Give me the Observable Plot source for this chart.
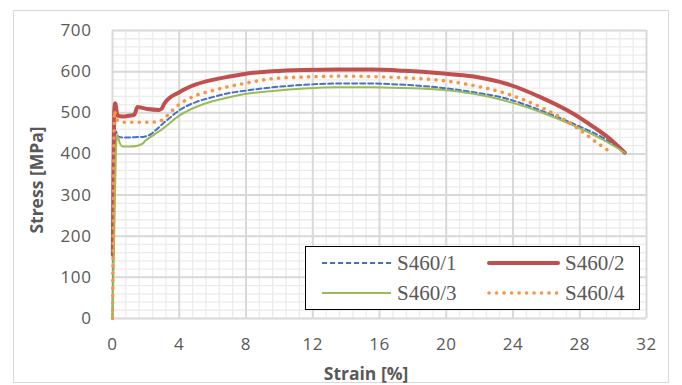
<!DOCTYPE html>
<html>
<head>
<meta charset="utf-8">
<script src="https://cdn.jsdelivr.net/npm/d3@7"></script>
<script src="https://cdn.jsdelivr.net/npm/@observablehq/plot@0.6"></script>
<style>
  html, body { margin: 0; padding: 0; background: white; }
  #chart { width: 682px; height: 385px; }
</style>
</head>
<body>
<div id="chart"></div>
<script>
// ---- Data ----
const seriesNames = ["S460/1", "S460/2", "S460/3", "S460/4"];

const strain1 = [0, 0.1, 0.2, 0.35, 0.6, 1.0, 1.5, 1.9, 2.3, 2.6, 3.0, 3.5, 4.0, 5.0, 6.0, 7.0, 8.0, 9.6, 11.5, 13.5, 15.5, 17.5, 19.65, 21.65, 23.65, 25.64, 27.64, 29.64, 30.7];
const stress1 = [0, 300, 455, 442, 440, 440, 441, 442, 448, 458, 473, 490, 506, 526, 538, 548, 554, 562, 568, 571, 571, 568, 561, 550, 534, 506, 473, 433, 403];

const strain2 = [0.02, 0.05, 0.1, 0.16, 0.3, 0.6, 1.0, 1.3, 1.5, 1.8, 2.1, 2.8, 2.95, 3.1, 4.0, 5.0, 6.0, 7.0, 8.0, 9.6, 11.5, 13.5, 15.5, 17.5, 19.65, 21.65, 23.65, 25.64, 27.64, 28.84, 29.64, 30.7];
const stress2 = [155, 335, 500, 523, 493, 491, 493, 495, 514, 512, 509, 507, 510, 522, 550, 569, 580, 588, 595, 601, 604, 605, 605, 602, 596, 588, 570, 538, 497, 465, 442, 403];

const strain3 = [0, 0.1, 0.2, 0.28, 0.45, 0.6, 1.0, 1.5, 1.8, 2.0, 2.5, 3.0, 4.0, 5.0, 6.0, 7.0, 8.0, 9.6, 11.5, 13.5, 15.5, 17.5, 19.65, 21.65, 23.65, 25.64, 27.64, 29.64, 30.7];
const stress3 = [0, 200, 400, 445, 425, 418, 418, 420, 425, 433, 447, 461, 493, 514, 528, 538, 546, 553, 559, 562, 562, 560, 556, 546, 528, 502, 469, 429, 403];

const strain4 = [0, 0.05, 0.12, 0.2, 0.35, 0.8, 1.5, 2.2, 2.6, 3.0, 3.4, 3.8, 5.0, 6.0, 7.0, 8.0, 9.6, 11.5, 13.5, 15.5, 17.5, 19.65, 21.65, 23.65, 25.64, 27.64, 28.84, 29.75];
const stress4 = [0, 250, 505, 490, 480, 477, 477, 477, 478, 483, 498, 514, 542, 554, 564, 572, 583, 587, 589, 588, 585, 579, 566, 546, 514, 469, 433, 407];

const xTicks = [0, 4, 8, 12, 16, 20, 24, 28, 32];
const yTicks = [0, 100, 200, 300, 400, 500, 600, 700];
const xLabel = "Strain [%]";
const yLabel = "Stress [MPa]";

// ---- Build tables ----
const toRows = (xs, ys) => xs.map((x, i) => ({strain: x, stress: ys[i]}));
const rows1 = toRows(strain1, stress1);
const rows2 = toRows(strain2, stress2);
const rows3 = toRows(strain3, stress3);
const rows4 = toRows(strain4, stress4);

const xMinor = d3.range(0, 41).map(i => i * 0.8);
const yMinor = d3.range(0, 36).map(i => i * 20);

const styles = [
  {stroke: "#4472C4", strokeWidth: 2, strokeDasharray: "5,3"},
  {stroke: "#C0504D", strokeWidth: 4, strokeLinecap: "round", strokeLinejoin: "round"},
  {stroke: "#9BBB59", strokeWidth: 2},
  {stroke: "#F79646", strokeWidth: 3.6, strokeDasharray: "0.1,7.4", strokeLinecap: "round"}
];

const chart = Plot.plot({
  width: 682,
  height: 385,
  marginLeft: 112,
  marginRight: 36,
  marginTop: 30,
  marginBottom: 67,
  x: {domain: [0, 32]},
  y: {domain: [0, 700]},
  style: {fontFamily: "'Open Sans', sans-serif", fontSize: "17px", color: "#595959", background: "white"},
  marks: [
    Plot.gridX(xMinor, {stroke: "#ececec", strokeOpacity: 1, strokeWidth: 1.3}),
    Plot.gridY(yMinor, {stroke: "#ececec", strokeOpacity: 1, strokeWidth: 1.3}),
    Plot.gridX(xTicks, {stroke: "#d9d9d9", strokeOpacity: 1, strokeWidth: 2}),
    Plot.gridY(yTicks, {stroke: "#d9d9d9", strokeOpacity: 1, strokeWidth: 2}),
    Plot.axisX(xTicks, {tickSize: 0, tickPadding: 19, label: null, fill: "#595959", fontSize: 17}),
    Plot.axisY(yTicks, {tickSize: 0, tickPadding: 21, label: null, fill: "#595959", fontSize: 17}),
    Plot.line(rows1, {x: "strain", y: "stress", curve: "monotone-x", ...styles[0]}),
    Plot.line(rows2, {x: "strain", y: "stress", curve: "monotone-x", ...styles[1]}),
    Plot.line(rows3, {x: "strain", y: "stress", curve: "monotone-x", ...styles[2]}),
    Plot.line(rows4, {x: "strain", y: "stress", curve: "monotone-x", ...styles[3]})
  ]
});

document.getElementById("chart").appendChild(chart);

// ---- Decorations: chart border, axis titles, legend ----
const svg = d3.select(chart);
svg.selectAll("g[aria-label='x-axis tick label'] text, g[aria-label='y-axis tick label'] text")
  .style("letter-spacing", "0.6px");

svg.insert("rect", ":first-child")
  .attr("x", 13.5).attr("y", 10.5).attr("width", 655).attr("height", 372)
  .attr("fill", "white").attr("stroke", "#d9d9d9").attr("stroke-width", 1);

svg.append("text")
  .attr("transform", "translate(36,180) rotate(-90)")
  .attr("text-anchor", "middle").attr("dominant-baseline", "central")
  .attr("font-family", "'Open Sans', sans-serif").attr("font-weight", "bold")
  .attr("font-size", 17.5).attr("fill", "#595959")
  .text(yLabel);

svg.append("text")
  .attr("x", 366).attr("y", 373)
  .attr("text-anchor", "middle").attr("dominant-baseline", "central")
  .attr("font-family", "'Open Sans', sans-serif").attr("font-weight", "bold")
  .attr("font-size", 17.5).attr("fill", "#595959")
  .text(xLabel);

const lg = svg.append("g");
lg.append("rect").attr("x", 305.5).attr("y", 246.5).attr("width", 334).attr("height", 63)
  .attr("fill", "white").attr("stroke", "#000").attr("stroke-width", 1);
const legendPos = [
  {x1: 322, x2: 391, tx: 397, y: 263},
  {x1: 489, x2: 558, tx: 565, y: 263},
  {x1: 322, x2: 391, tx: 397, y: 293},
  {x1: 489, x2: 558, tx: 565, y: 293}
];
seriesNames.forEach((name, i) => {
  const p = legendPos[i], s = styles[i];
  const ln = lg.append("line").attr("x1", p.x1).attr("x2", p.x2).attr("y1", p.y).attr("y2", p.y)
    .attr("stroke", s.stroke).attr("stroke-width", s.strokeWidth);
  if (s.strokeDasharray) ln.attr("stroke-dasharray", s.strokeDasharray);
  if (s.strokeLinecap) ln.attr("stroke-linecap", s.strokeLinecap);
  lg.append("text").attr("x", p.tx).attr("y", p.y)
    .attr("text-anchor", "start")
    .attr("dominant-baseline", "central")
    .attr("font-family", "'Liberation Serif', 'Times New Roman', serif")
    .attr("font-size", 21).attr("fill", "#595959")
    .text(name);
});
</script>
</body>
</html>
